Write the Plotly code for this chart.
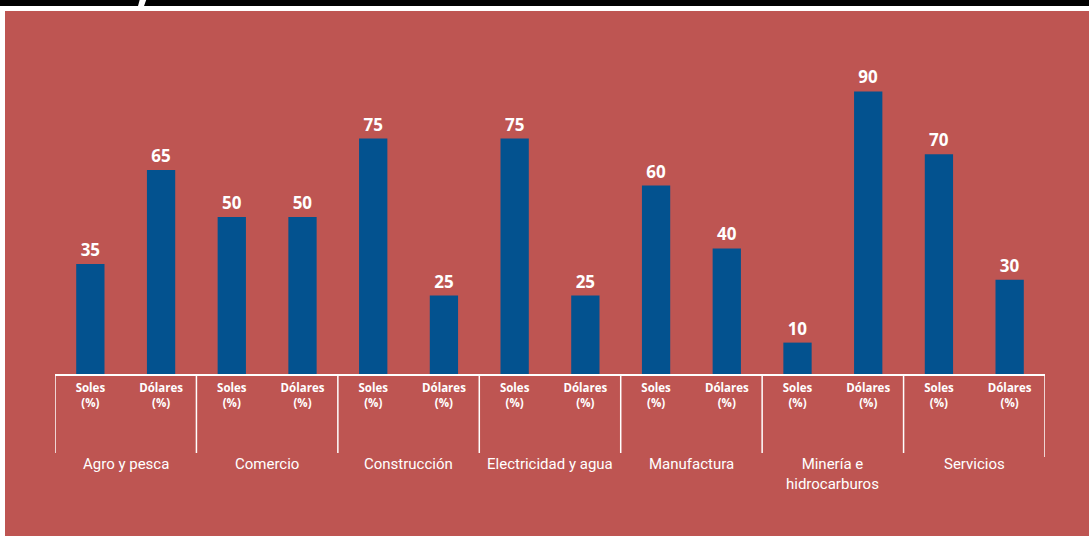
import plotly.graph_objects as go

categories = ["Agro y pesca", "Comercio", "Construcción", "Electricidad y agua",
              "Manufactura", "Minería e<br>hidrocarburos", "Servicios"]
soles = [35, 50, 75, 75, 60, 10, 70]
dolares = [65, 50, 25, 25, 40, 90, 30]
series_labels = ["Soles<br>(%)", "Dólares<br>(%)"]

W, H = 1089, 536
RED = "#BE5552"
BLUE = "#03528F"
FONT = "Liberation Sans Narrow, Roboto, Arial"

xs, ys, ticktext = [], [], []
for i, (s, d) in enumerate(zip(soles, dolares)):
    xs += [2 * i, 2 * i + 1]
    ys += [s, d]
    ticktext += series_labels

fig = go.Figure(go.Bar(
    x=xs, y=ys, width=0.4, marker=dict(color=BLUE, line=dict(width=0)),
    text=ys, textposition="outside", cliponaxis=False, hoverinfo="skip",
    textfont=dict(color="white", size=17, family="Open Sans", weight="bold"),
))

ml, mr, mt, mb = 55, 44, 60, 162
ph = H - mt - mb

def py(px):  # pixel y -> paper
    return 1 - (px - mt) / ph

def pxf(px):
    return (px - ml) / (W - ml - mr)

shapes = []
# red background panel
shapes.append(dict(type="rect", xref="paper", yref="paper", x0=pxf(5), x1=pxf(W + 5),
                   y0=py(H + 5), y1=py(11), fillcolor=RED, line=dict(width=0), layer="below"))
# top black bars with slanted gap
shapes.append(dict(type="path", xref="paper", yref="paper",
                   path=f"M {pxf(-5)} {py(-5)} L {pxf(141)} {py(-5)} L {pxf(138)} {py(6)} L {pxf(-5)} {py(6)} Z",
                   fillcolor="black", line=dict(width=0), layer="below"))
shapes.append(dict(type="path", xref="paper", yref="paper",
                   path=f"M {pxf(148)} {py(-5)} L {pxf(W + 5)} {py(-5)} L {pxf(W + 5)} {py(6)} L {pxf(144)} {py(6)} Z",
                   fillcolor="black", line=dict(width=0), layer="below"))
# group dividers
for k in range(len(categories) + 1):
    x = 2 * k - 0.5
    shapes.append(dict(type="line", xref="x", yref="paper", x0=x, x1=x,
                       y0=py(374), y1=py(453 if k < len(categories) else 457),
                       line=dict(color="white", width=1.5)))

annotations = []
for i, c in enumerate(categories):
    annotations.append(dict(x=2 * i + 0.5, xref="x", y=py(453), yref="paper",
                            text=c, showarrow=False, yanchor="top",
                            font=dict(color="white", size=15, family=FONT)))

fig.update_layout(
    width=W, height=H, margin=dict(l=ml, r=mr, t=mt, b=mb),
    paper_bgcolor="white", plot_bgcolor=RED,
    showlegend=False, shapes=shapes, annotations=annotations,
    xaxis=dict(range=[-0.5, 2 * len(categories) - 0.5], tickvals=xs, ticktext=ticktext,
               showgrid=False, zeroline=False, showline=True, linecolor="white", linewidth=1.5,
               ticks="", tickfont=dict(color="white", size=11.5, family="Open Sans", weight="bold"),
               ticklabelstandoff=2, tickangle=0),
    yaxis=dict(range=[0, 100], visible=False, showgrid=False),
    bargap=0.6,
)

fig.write_html("out.html", config={"displayModeBar": False},
               post_script="document.body.style.margin='0';document.body.style.overflow='hidden';")
